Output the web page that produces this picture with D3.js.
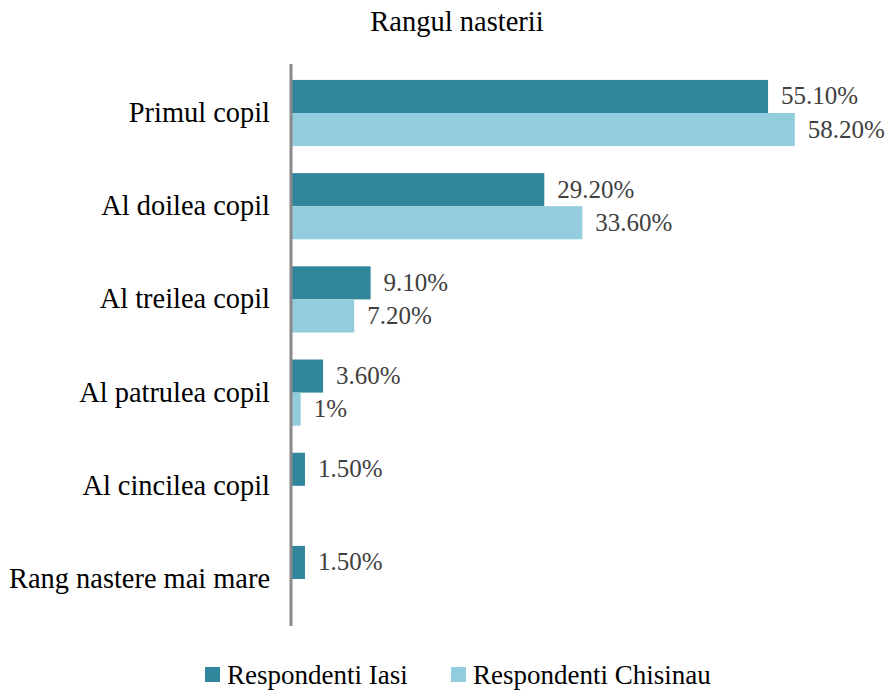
<html>
<head>
<style>
  body { margin: 0; background: white; font-family: "Liberation Serif", "Times New Roman", serif; }
</style>
<script src="https://d3js.org/d3.v7.min.js"></script>
</head>
<body>
<svg id="chart"></svg>
<script>
  let categories = ["Primul copil", "Al doilea copil", "Al treilea copil", "Al patrulea copil", "Al cincilea copil", "Rang nastere mai mare"];
  let seriesNames = ["Respondenti Iasi", "Respondenti Chisinau"];
  let iasiValues = [55.1, 29.2, 9.1, 3.6, 1.5, 1.5];
  let chisinauValues = [58.2, 33.6, 7.2, 1, null, null];
  let valueLabels = [
    ["55.10%", "29.20%", "9.10%", "3.60%", "1.50%", "1.50%"],
    ["58.20%", "33.60%", "7.20%", "1%", "", ""]
  ];

  let colors = ["#31859c", "#93cddd"];
  let width = 891, height = 690;

  let svg = d3.select("#chart").attr("width", width).attr("height", height);

  // title
  svg.append("text")
    .attr("x", 457).attr("y", 31)
    .attr("text-anchor", "middle")
    .attr("font-size", 28.5)
    .attr("fill", "#000")
    .text("Rangul nasterii");

  let x = d3.scaleLinear().domain([0, 60]).range([292, 292 + 8.64 * 60]);
  let y = d3.scaleBand().domain(categories).range([66.4, 625.6])
    .paddingInner(0.29).paddingOuter(0.145);
  let ySub = d3.scaleBand().domain(seriesNames).range([0, y.bandwidth()]);

  let rows = categories.map((c, i) => ({
    cat: c,
    vals: [iasiValues[i], chisinauValues[i]].map((v, s) => ({ s, v, label: valueLabels[s][i] }))
  }));

  let groups = svg.selectAll(".grp").data(rows).enter().append("g")
    .attr("transform", d => `translate(0,${y(d.cat)})`);

  groups.selectAll("rect").data(d => d.vals.filter(e => e.v != null)).enter().append("rect")
    .attr("x", x(0))
    .attr("y", d => ySub(seriesNames[d.s]))
    .attr("width", d => x(d.v) - x(0))
    .attr("height", ySub.bandwidth())
    .attr("fill", d => colors[d.s]);

  groups.selectAll(".val").data(d => d.vals.filter(e => e.v != null)).enter().append("text")
    .attr("x", d => x(d.v) + 13)
    .attr("y", d => ySub(seriesNames[d.s]) + ySub.bandwidth() / 2 + 8)
    .attr("font-size", 25)
    .attr("fill", "#404040")
    .text(d => d.label);

  // category labels
  svg.selectAll(".cat").data(categories).enter().append("text")
    .attr("x", 270)
    .attr("y", d => y(d) + y.bandwidth() / 2 + 9)
    .attr("text-anchor", "end")
    .attr("font-size", 28.4)
    .attr("fill", "#000")
    .text(d => d);

  // axis line
  svg.append("line")
    .attr("x1", 291).attr("x2", 291)
    .attr("y1", 64).attr("y2", 626)
    .attr("stroke", "#898989").attr("stroke-width", 3);

  // legend
  let legendX = [205, 451];
  let legend = svg.selectAll(".leg").data(seriesNames).enter().append("g")
    .attr("transform", (d, i) => `translate(${legendX[i]},667)`);
  legend.append("rect").attr("width", 15).attr("height", 15).attr("fill", (d, i) => colors[i]);
  legend.append("text").attr("x", 22).attr("y", 17)
    .attr("font-size", 27).attr("fill", "#000").text(d => d);
</script>
</body>
</html>
